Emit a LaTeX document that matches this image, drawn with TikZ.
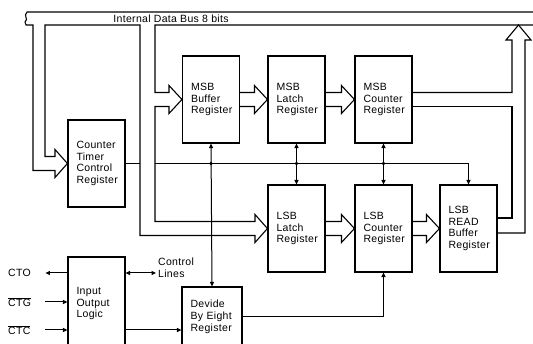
\documentclass[tikz,border=0pt]{standalone}
\usepackage{fontspec}
\setmainfont{Liberation Sans}[LetterSpace=3]
\usetikzlibrary{arrows.meta,calc}

% wide bus arrow from one register into the next
\newcommand{\fatarrow}[2]{%
  \draw[bus] ($(#1.east)+(0,-7)$) -- ($(#2.west)+(-13,-7)$) -- ($(#2.west)+(-13,-14)$)
    -- (#2.west) -- ($(#2.west)+(-13,14)$) -- ($(#2.west)+(-13,7)$) -- ($(#1.east)+(0,7)$);}

\begin{document}
\begin{tikzpicture}[x=1pt,y=-1pt,
  every node/.style={font=\fontsize{10.5}{11.8}\selectfont},
  reg/.style={draw,line width=1.1pt,minimum width=57pt,minimum height=87pt,text width=40pt,
    inner xsep=8.5pt,align=left},
  bus/.style={line width=1.1pt,line join=miter},
  sig/.style={line width=1pt,arrows={-Triangle[length=4.5pt,width=4pt]}},
  sigb/.style={line width=1pt,arrows={Triangle[length=4.5pt,width=4pt]-Triangle[length=4.5pt,width=4pt]}},
  pin/.style={anchor=west,inner sep=0pt,text width=37pt,align=left}]
  \useasboundingbox (0,0) rectangle (533,344);
  \clip (0,0) rectangle (533,344);

  % registers
  \node[reg] (ctcr) at (96.5,163.5) {Counter\\Timer\\Control\\Register};
  \node[reg] (mbuf) at (211,99.5) {MSB\\Buffer\\Register};
  \node[reg] (mlatch) at (296.5,99.5) {MSB\\Latch\\Register};
  \node[reg] (mcount) at (383.5,99.5) {MSB\\Counter\\Register};
  \node[reg] (llatch) at (296.5,228.5) {LSB\\Latch\\Register};
  \node[reg] (lcount) at (383.5,228.5) {LSB\\Counter\\Register};
  \node[reg] (lread) at (468.5,228.5) {LSB\\READ\\Buffer\\Register};
  \node[reg,minimum height=93pt] (iol) at (96.5,303.5) {Input\\Output\\Logic};
  \node[reg,text width=43pt,minimum height=60pt] (div8) at (212,317) {Devide\\By Eight\\Register};

  % internal data bus
  \draw[bus] (533,12) -- (27,12) .. controls (23,16) and (29,19) .. (25,22) -- (26,25) -- (33,25)
    -- (33,170.5) -- (55,170.5) -- (55,177.5) -- (ctcr.west) -- (55,149.5) -- (55,156.5) -- (45,156.5)
    -- (45,25) -- (140,25) -- (140,235.5) -- (255,235.5) -- (255,242.5) -- (llatch.west)
    -- (255,214.5) -- (255,221.5) -- (155,221.5) -- (155,106.5) -- (169,106.5) -- (169,113.5)
    -- (mbuf.west) -- (169,85.5) -- (169,92.5) -- (155,92.5) -- (155,25) -- (533,25);
  \node[font=\fontsize{10.5}{12}\selectfont] (buslbl) at (171,18.5) {Internal Data Bus 8 bits};

  \fatarrow{mbuf}{mlatch}
  \fatarrow{mlatch}{mcount}
  \fatarrow{llatch}{lcount}
  \fatarrow{lcount}{lread}

  % counter outputs back onto the bus
  \draw[bus] ($(mcount.east)+(0,-7)$) -| (512,40) -- (506,40) -- (518.5,25) -- (531,40) -- (525,40)
    |- ($(lread.east)+(0,4.5)$);
  \draw[bus] ($(mcount.east)+(0,7)$) -| (512,218) -- ($(lread.east)+(0,-10.5)$);

  % control line
  \draw[line width=1pt] (ctcr.east) -- (140,163.5);
  \draw[sig] (155,163.5) -| (lread.north);
  \draw[sigb] (mbuf.south) -- (div8.north);
  \draw[sigb] (mlatch.south) -- (llatch.north);
  \draw[sigb] (mcount.south) -- (lcount.north);
  \foreach \n in {mbuf,mlatch,mcount}
    \fill (\n.south |- ctcr.east) circle (1.8pt);

  % input / output logic
  \node[pin] (cto) at (8,273) {CTO};
  \node[pin] (ctg) at (8,302) {$\overline{\hbox{CTG}}$};
  \node[pin] (ctc) at (8,330) {$\overline{\hbox{CTC}}$};
  \node[anchor=west,inner sep=0pt,align=left] (ctl) at (158,267.5) {Control\\Lines};
  \draw[sig] (iol.west |- cto) -- (cto.east);
  \draw[sig] (ctg.east) -- (iol.west |- ctg);
  \draw[sig] (ctc.east) -- (iol.west |- ctc);
  \draw[sigb] (iol.east |- cto) -- ([xshift=-2pt]ctl.west |- cto);
  \draw[sig] (iol.east |- ctc) -- (div8.west |- ctc);
  \draw[sig] (div8.east) -| (lcount.south);
\end{tikzpicture}
\end{document}
